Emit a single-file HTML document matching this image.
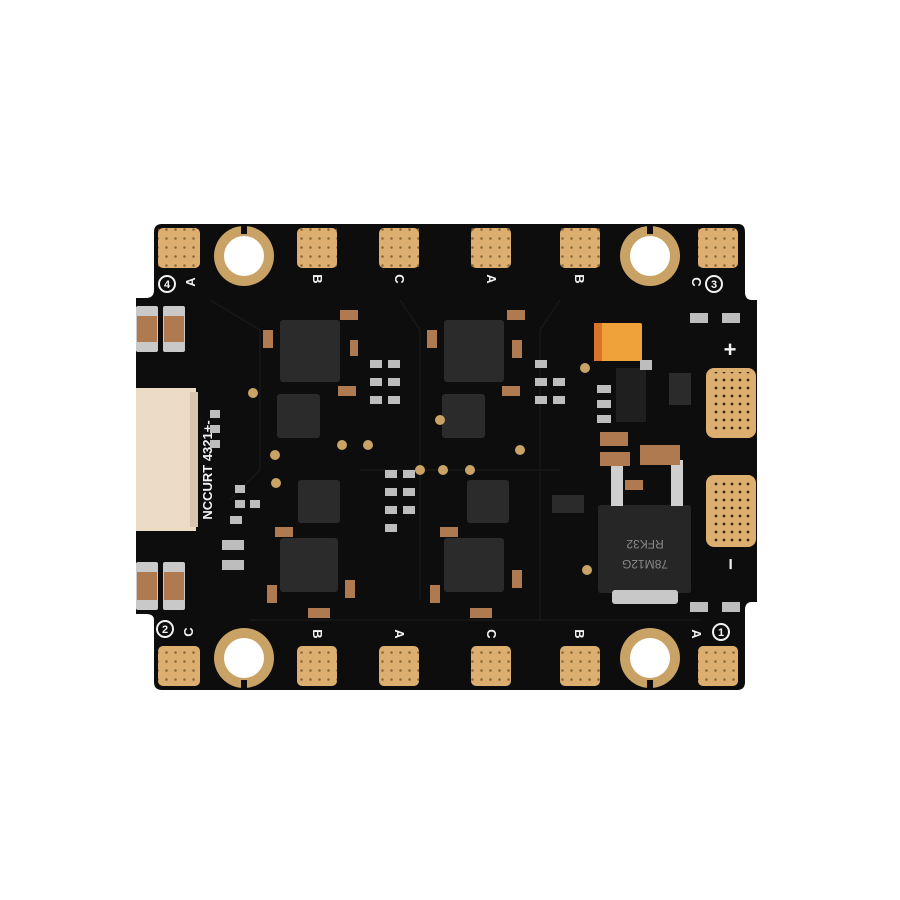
<!DOCTYPE html>
<html><head><style>
html,body{margin:0;padding:0;background:#fff;width:900px;height:900px;overflow:hidden}
svg{display:block}
text{font-family:"Liberation Sans",sans-serif;font-weight:bold;fill:#f2f2f2}
</style></head><body>
<svg width="900" height="900" viewBox="0 0 900 900" xmlns="http://www.w3.org/2000/svg">
<defs>
<pattern id="dots" width="9" height="9" patternUnits="userSpaceOnUse"><circle cx="4.5" cy="4.5" r="1.3" fill="#8a6a3a"/></pattern>
<pattern id="dots2" width="8" height="8" patternUnits="userSpaceOnUse"><circle cx="4" cy="4" r="1.4" fill="#3a2a15"/></pattern>
</defs>
<path d="M162 224 H738 Q745 224 745 232 V292 Q745 300 752 300 H757 V602 H752 Q745 602 745 610 V682 Q745 690 737 690 H162 Q154 690 154 682 V620 Q154 614 146 614 H136 V298 H146 Q154 298 154 290 V232 Q154 224 162 224Z" fill="#0d0d0d"/>
<g stroke="#181818" stroke-width="1.5" fill="none">
<path d="M210 300 L260 330 L260 470 L230 500"/><path d="M400 300 L420 330 L420 600"/><path d="M560 300 L540 330 L540 620"/><path d="M360 470 H560"/><path d="M250 620 H700"/>
</g>
<g fill="#dcae70">
<rect x="158" y="228" width="42" height="40" rx="5"/>
<rect x="297" y="228" width="40" height="40" rx="5"/>
<rect x="379" y="228" width="40" height="40" rx="5"/>
<rect x="471" y="228" width="40" height="40" rx="5"/>
<rect x="560" y="228" width="40" height="40" rx="5"/>
<rect x="698" y="228" width="40" height="40" rx="5"/>
<rect x="158" y="646" width="42" height="40" rx="5"/>
<rect x="297" y="646" width="40" height="40" rx="5"/>
<rect x="379" y="646" width="40" height="40" rx="5"/>
<rect x="471" y="646" width="40" height="40" rx="5"/>
<rect x="560" y="646" width="40" height="40" rx="5"/>
<rect x="698" y="646" width="40" height="40" rx="5"/>
<rect x="706" y="368" width="50" height="70" rx="8"/>
<rect x="706" y="475" width="50" height="72" rx="8"/>
</g>
<g fill="url(#dots)">
<rect x="158" y="228" width="42" height="40"/><rect x="297" y="228" width="40" height="40"/><rect x="379" y="228" width="40" height="40"/><rect x="471" y="228" width="40" height="40"/><rect x="560" y="228" width="40" height="40"/><rect x="698" y="228" width="40" height="40"/>
<rect x="158" y="646" width="42" height="40"/><rect x="297" y="646" width="40" height="40"/><rect x="379" y="646" width="40" height="40"/><rect x="471" y="646" width="40" height="40"/><rect x="560" y="646" width="40" height="40"/><rect x="698" y="646" width="40" height="40"/>
</g>
<g fill="url(#dots2)"><rect x="710" y="372" width="44" height="62"/><rect x="710" y="479" width="44" height="64"/></g>
<g>
<circle cx="244" cy="256" r="30" fill="#c9a265"/><circle cx="244" cy="256" r="20" fill="#fff"/><rect x="241" y="224" width="6" height="10" fill="#0d0d0d"/>
<circle cx="650" cy="256" r="30" fill="#c9a265"/><circle cx="650" cy="256" r="20" fill="#fff"/><rect x="647" y="224" width="6" height="10" fill="#0d0d0d"/>
<circle cx="244" cy="658" r="30" fill="#c9a265"/><circle cx="244" cy="658" r="20" fill="#fff"/><rect x="241" y="680" width="6" height="10" fill="#0d0d0d"/>
<circle cx="650" cy="658" r="30" fill="#c9a265"/><circle cx="650" cy="658" r="20" fill="#fff"/><rect x="647" y="680" width="6" height="10" fill="#0d0d0d"/>
</g>
<g font-size="13" text-anchor="middle">
<text x="190" y="287" transform="rotate(-90 190 282)">A</text>
<text x="318" y="284" transform="rotate(90 318 279)">B</text>
<text x="400" y="284" transform="rotate(90 400 279)">C</text>
<text x="492" y="284" transform="rotate(90 492 279)">A</text>
<text x="580" y="284" transform="rotate(90 580 279)">B</text>
<text x="697" y="287" transform="rotate(90 697 282)">C</text>
<text x="188" y="637" transform="rotate(-90 188 632)">C</text>
<text x="318" y="639" transform="rotate(90 318 634)">B</text>
<text x="400" y="639" transform="rotate(90 400 634)">A</text>
<text x="492" y="639" transform="rotate(90 492 634)">C</text>
<text x="580" y="639" transform="rotate(90 580 634)">B</text>
<text x="697" y="639" transform="rotate(90 697 634)">A</text>
</g>
<g stroke="#f2f2f2" stroke-width="2" fill="none">
<circle cx="167" cy="284" r="8"/><circle cx="714" cy="284" r="8"/><circle cx="165" cy="629" r="8"/><circle cx="721" cy="632" r="8"/>
</g>
<g font-size="11" text-anchor="middle">
<text x="167" y="288">4</text><text x="714" y="288">3</text><text x="165" y="633">2</text><text x="721" y="636">1</text>
</g>
<text x="730" y="357" font-size="22" text-anchor="middle">+</text>
<text x="730" y="570" font-size="20" text-anchor="middle" transform="rotate(90 730 564)">−</text>
<text x="212" y="470" font-size="13" transform="rotate(-90 212 470)" text-anchor="middle">NCCURT 4321+-</text>
<rect x="136" y="388" width="60" height="143" fill="#ecdcc6"/>
<rect x="190" y="392" width="8" height="135" fill="#d8c7ae"/>
<g>
<rect x="136" y="306" width="22" height="46" rx="2" fill="#c9c9c9"/><rect x="137" y="316" width="20" height="26" fill="#b07a50"/>
<rect x="163" y="306" width="22" height="46" rx="2" fill="#c9c9c9"/><rect x="164" y="316" width="20" height="26" fill="#b07a50"/>
<rect x="136" y="562" width="22" height="48" rx="2" fill="#c9c9c9"/><rect x="137" y="572" width="20" height="28" fill="#b07a50"/>
<rect x="163" y="562" width="22" height="48" rx="2" fill="#c9c9c9"/><rect x="164" y="572" width="20" height="28" fill="#b07a50"/>
</g>
<g fill="#2b2b2b">
<rect x="280" y="320" width="60" height="62" rx="3"/><rect x="277" y="394" width="43" height="44" rx="3"/>
<rect x="444" y="320" width="60" height="62" rx="3"/><rect x="442" y="394" width="43" height="44" rx="3"/>
<rect x="298" y="480" width="42" height="43" rx="3"/><rect x="280" y="538" width="58" height="54" rx="3"/>
<rect x="467" y="480" width="42" height="43" rx="3"/><rect x="444" y="538" width="60" height="54" rx="3"/>
<rect x="616" y="368" width="30" height="54" fill="#1f1f1f"/>
<rect x="598" y="505" width="93" height="88" rx="3" fill="#262626"/>
<rect x="552" y="495" width="32" height="18"/>
<rect x="669" y="373" width="22" height="32"/>
</g>
<rect x="612" y="590" width="66" height="14" rx="3" fill="#c8c8c8"/>
<rect x="611" y="460" width="12" height="46" fill="#cfcfcf"/><rect x="671" y="460" width="12" height="46" fill="#cfcfcf"/>
<g font-size="12">
<text x="645" y="540" transform="rotate(180 645 540)" text-anchor="middle" style="fill:#8a8a8a;font-weight:normal">RFK32</text>
<text x="645" y="560" transform="rotate(180 645 560)" text-anchor="middle" style="fill:#8a8a8a;font-weight:normal">78M12G</text>
</g>
<rect x="594" y="323" width="48" height="38" rx="2" fill="#f0a23a"/><rect x="594" y="323" width="8" height="38" fill="#d9742a"/>
<g fill="#b07a50">
<rect x="338" y="386" width="18" height="10"/><rect x="340" y="310" width="18" height="10"/><rect x="263" y="330" width="10" height="18"/><rect x="350" y="340" width="8" height="16"/>
<rect x="502" y="386" width="18" height="10"/><rect x="507" y="310" width="18" height="10"/><rect x="427" y="330" width="10" height="18"/><rect x="512" y="340" width="10" height="18"/>
<rect x="275" y="527" width="18" height="10"/><rect x="267" y="585" width="10" height="18"/><rect x="345" y="580" width="10" height="18"/><rect x="308" y="608" width="22" height="10"/>
<rect x="440" y="527" width="18" height="10"/><rect x="430" y="585" width="10" height="18"/><rect x="512" y="570" width="10" height="18"/><rect x="470" y="608" width="22" height="10"/>
<rect x="600" y="432" width="28" height="14"/><rect x="600" y="452" width="30" height="14"/><rect x="640" y="445" width="40" height="20"/><rect x="625" y="480" width="18" height="10"/>
</g>
<g fill="#c9a265">
<circle cx="253" cy="393" r="5"/><circle cx="275" cy="455" r="5"/><circle cx="342" cy="445" r="5"/><circle cx="368" cy="445" r="5"/><circle cx="276" cy="483" r="5"/>
<circle cx="420" cy="470" r="5"/><circle cx="443" cy="470" r="5"/><circle cx="470" cy="470" r="5"/><circle cx="520" cy="450" r="5"/><circle cx="585" cy="368" r="5"/><circle cx="587" cy="570" r="5"/><circle cx="440" cy="420" r="5"/>
</g>
<g fill="#bdbdbd">
<rect x="370" y="360" width="12" height="8"/><rect x="370" y="378" width="12" height="8"/><rect x="370" y="396" width="12" height="8"/><rect x="388" y="360" width="12" height="8"/><rect x="388" y="378" width="12" height="8"/><rect x="388" y="396" width="12" height="8"/>
<rect x="385" y="470" width="12" height="8"/><rect x="385" y="488" width="12" height="8"/><rect x="385" y="506" width="12" height="8"/><rect x="385" y="524" width="12" height="8"/><rect x="403" y="470" width="12" height="8"/><rect x="403" y="488" width="12" height="8"/><rect x="403" y="506" width="12" height="8"/>
<rect x="535" y="360" width="12" height="8"/><rect x="535" y="378" width="12" height="8"/><rect x="535" y="396" width="12" height="8"/><rect x="553" y="378" width="12" height="8"/><rect x="553" y="396" width="12" height="8"/>
<rect x="222" y="540" width="22" height="10"/><rect x="222" y="560" width="22" height="10"/><rect x="230" y="516" width="12" height="8"/>
<rect x="235" y="500" width="10" height="8"/><rect x="250" y="500" width="10" height="8"/><rect x="235" y="485" width="10" height="8"/>
<rect x="597" y="385" width="14" height="8"/><rect x="597" y="400" width="14" height="8"/><rect x="597" y="415" width="14" height="8"/>
<rect x="690" y="313" width="18" height="10"/><rect x="722" y="313" width="18" height="10"/>
<rect x="690" y="602" width="18" height="10"/><rect x="722" y="602" width="18" height="10"/>
<rect x="640" y="360" width="12" height="10"/>
<rect x="210" y="410" width="10" height="8"/><rect x="210" y="425" width="10" height="8"/><rect x="210" y="440" width="10" height="8"/>
</g>
</svg>
</body></html>
